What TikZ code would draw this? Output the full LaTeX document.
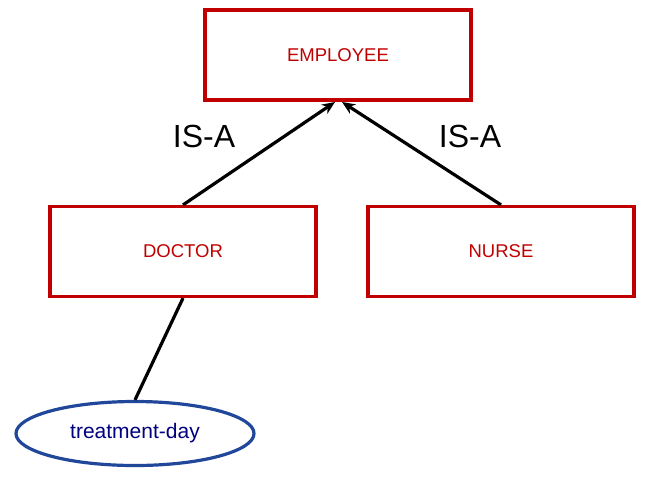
\documentclass[tikz,border=0pt]{standalone}
\usepackage{fontspec}
\setmainfont{Liberation Sans}
\usetikzlibrary{shapes.geometric,arrows.meta}
\definecolor{boxred}{HTML}{C00000}
\definecolor{ovalblue}{HTML}{20479A}
\definecolor{navytext}{HTML}{000080}
\begin{document}
\begin{tikzpicture}[x=1pt,y=-1pt,
  entity/.style={draw=boxred,line width=3.2pt,fill=white,minimum width=266pt,minimum height=90pt,
    inner sep=0pt,text=boxred,font=\fontsize{18.5}{20}\selectfont},
  attr/.style={ellipse,draw=ovalblue,line width=3.2pt,minimum width=238pt,minimum height=64pt,
    inner sep=0pt,text=navytext,font=\fontsize{21}{23}\selectfont},
  isa/.style={line width=3.2pt,-{Stealth[length=13pt,width=11pt]}},
  link/.style={line width=3.2pt},
  rel/.style={font=\fontsize{32}{34}\selectfont}]
\useasboundingbox (0,0) rectangle (660,477);
\node[entity] (emp) at (338,55) {EMPLOYEE};
\node[entity] (doc) at (183,251.5) {DOCTOR};
\node[entity] (nur) at (501,251.5) {NURSE};
\node[attr] (day) at (135,433.5) {treatment-day};
\coordinate (empL) at (335,102);
\coordinate (empR) at (342,102);
\draw[isa] (doc.north) -- (empL);
\draw[isa] (nur.north) -- (empR);
\draw[link] (doc.south) -- (day.north);
\node[rel] (isaL) at (204,136) {IS-A};
\node[rel] (isaR) at (470,136) {IS-A};
\end{tikzpicture}
\end{document}
